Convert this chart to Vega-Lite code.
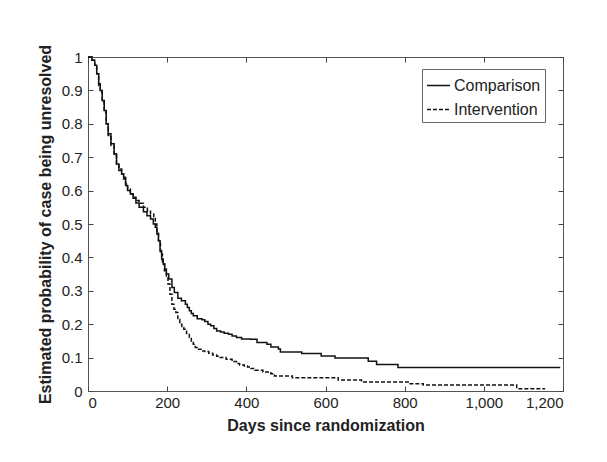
{
  "$schema": "https://vega.github.io/schema/vega-lite/v6.json",
  "autosize": "none",
  "width": 475,
  "height": 334,
  "padding": {"left": 88, "top": 57, "right": 44, "bottom": 71},
  "background": "white",
  "config": {
    "view": {"stroke": "#555", "strokeWidth": 1},
    "font": "Liberation Sans",
    "axis": {
      "domain": false,
      "grid": false,
      "tickSize": -5,
      "tickColor": "#444",
      "labelFontSize": 15,
      "labelColor": "#222",
      "labelFont": "Liberation Sans",
      "titleFont": "Liberation Sans",
      "titleFontSize": 16,
      "titleFontWeight": "bold",
      "titleColor": "#222"
    }
  },
  "data": {
    "values": [
      {"g":"Comparison","d":0,"p":1},{"g":"Comparison","d":10,"p":0.99},{"g":"Comparison","d":17,"p":0.975},{"g":"Comparison","d":22,"p":0.95},{"g":"Comparison","d":27,"p":0.92},{"g":"Comparison","d":31,"p":0.9},{"g":"Comparison","d":36,"p":0.87},{"g":"Comparison","d":41,"p":0.84},{"g":"Comparison","d":46,"p":0.8},{"g":"Comparison","d":51,"p":0.77},{"g":"Comparison","d":58,"p":0.74},{"g":"Comparison","d":66,"p":0.71},{"g":"Comparison","d":72,"p":0.68},{"g":"Comparison","d":78,"p":0.66},{"g":"Comparison","d":85,"p":0.65},{"g":"Comparison","d":90,"p":0.635},{"g":"Comparison","d":95,"p":0.615},{"g":"Comparison","d":100,"p":0.6},{"g":"Comparison","d":107,"p":0.59},{"g":"Comparison","d":114,"p":0.577},{"g":"Comparison","d":121,"p":0.563},{"g":"Comparison","d":129,"p":0.55},{"g":"Comparison","d":140,"p":0.537},{"g":"Comparison","d":149,"p":0.525},{"g":"Comparison","d":158,"p":0.515},{"g":"Comparison","d":165,"p":0.5},{"g":"Comparison","d":170,"p":0.49},{"g":"Comparison","d":174,"p":0.47},{"g":"Comparison","d":178,"p":0.45},{"g":"Comparison","d":182,"p":0.42},{"g":"Comparison","d":186,"p":0.395},{"g":"Comparison","d":190,"p":0.38},{"g":"Comparison","d":194,"p":0.365},{"g":"Comparison","d":198,"p":0.35},{"g":"Comparison","d":204,"p":0.335},{"g":"Comparison","d":212,"p":0.31},{"g":"Comparison","d":218,"p":0.295},{"g":"Comparison","d":227,"p":0.278},{"g":"Comparison","d":236,"p":0.27},{"g":"Comparison","d":246,"p":0.26},{"g":"Comparison","d":251,"p":0.25},{"g":"Comparison","d":256,"p":0.24},{"g":"Comparison","d":261,"p":0.232},{"g":"Comparison","d":266,"p":0.225},{"g":"Comparison","d":276,"p":0.216},{"g":"Comparison","d":288,"p":0.213},{"g":"Comparison","d":295,"p":0.208},{"g":"Comparison","d":303,"p":0.2},{"g":"Comparison","d":310,"p":0.195},{"g":"Comparison","d":318,"p":0.187},{"g":"Comparison","d":325,"p":0.18},{"g":"Comparison","d":335,"p":0.177},{"g":"Comparison","d":344,"p":0.173},{"g":"Comparison","d":355,"p":0.17},{"g":"Comparison","d":364,"p":0.165},{"g":"Comparison","d":375,"p":0.16},{"g":"Comparison","d":388,"p":0.156},{"g":"Comparison","d":410,"p":0.155},{"g":"Comparison","d":427,"p":0.145},{"g":"Comparison","d":452,"p":0.14},{"g":"Comparison","d":462,"p":0.132},{"g":"Comparison","d":481,"p":0.126},{"g":"Comparison","d":486,"p":0.117},{"g":"Comparison","d":540,"p":0.112},{"g":"Comparison","d":589,"p":0.105},{"g":"Comparison","d":624,"p":0.099},{"g":"Comparison","d":708,"p":0.089},{"g":"Comparison","d":729,"p":0.079},{"g":"Comparison","d":783,"p":0.07},{"g":"Comparison","d":1193,"p":0.07},
      {"g":"Intervention","d":0,"p":1},{"g":"Intervention","d":10,"p":0.99},{"g":"Intervention","d":17,"p":0.975},{"g":"Intervention","d":22,"p":0.95},{"g":"Intervention","d":27,"p":0.915},{"g":"Intervention","d":31,"p":0.895},{"g":"Intervention","d":36,"p":0.865},{"g":"Intervention","d":41,"p":0.835},{"g":"Intervention","d":46,"p":0.8},{"g":"Intervention","d":51,"p":0.765},{"g":"Intervention","d":58,"p":0.735},{"g":"Intervention","d":66,"p":0.705},{"g":"Intervention","d":72,"p":0.68},{"g":"Intervention","d":78,"p":0.665},{"g":"Intervention","d":85,"p":0.65},{"g":"Intervention","d":90,"p":0.64},{"g":"Intervention","d":95,"p":0.62},{"g":"Intervention","d":100,"p":0.605},{"g":"Intervention","d":107,"p":0.59},{"g":"Intervention","d":114,"p":0.58},{"g":"Intervention","d":121,"p":0.57},{"g":"Intervention","d":129,"p":0.562},{"g":"Intervention","d":140,"p":0.55},{"g":"Intervention","d":150,"p":0.538},{"g":"Intervention","d":158,"p":0.53},{"g":"Intervention","d":166,"p":0.52},{"g":"Intervention","d":170,"p":0.5},{"g":"Intervention","d":174,"p":0.475},{"g":"Intervention","d":178,"p":0.45},{"g":"Intervention","d":183,"p":0.41},{"g":"Intervention","d":188,"p":0.38},{"g":"Intervention","d":193,"p":0.36},{"g":"Intervention","d":198,"p":0.34},{"g":"Intervention","d":202,"p":0.32},{"g":"Intervention","d":207,"p":0.29},{"g":"Intervention","d":212,"p":0.26},{"g":"Intervention","d":217,"p":0.245},{"g":"Intervention","d":222,"p":0.235},{"g":"Intervention","d":227,"p":0.215},{"g":"Intervention","d":232,"p":0.2},{"g":"Intervention","d":237,"p":0.19},{"g":"Intervention","d":242,"p":0.185},{"g":"Intervention","d":249,"p":0.172},{"g":"Intervention","d":256,"p":0.16},{"g":"Intervention","d":261,"p":0.15},{"g":"Intervention","d":266,"p":0.14},{"g":"Intervention","d":271,"p":0.13},{"g":"Intervention","d":276,"p":0.125},{"g":"Intervention","d":288,"p":0.12},{"g":"Intervention","d":295,"p":0.118},{"g":"Intervention","d":305,"p":0.113},{"g":"Intervention","d":315,"p":0.108},{"g":"Intervention","d":325,"p":0.104},{"g":"Intervention","d":334,"p":0.1},{"g":"Intervention","d":349,"p":0.095},{"g":"Intervention","d":364,"p":0.088},{"g":"Intervention","d":375,"p":0.082},{"g":"Intervention","d":383,"p":0.078},{"g":"Intervention","d":395,"p":0.075},{"g":"Intervention","d":403,"p":0.072},{"g":"Intervention","d":412,"p":0.067},{"g":"Intervention","d":422,"p":0.062},{"g":"Intervention","d":442,"p":0.057},{"g":"Intervention","d":462,"p":0.052},{"g":"Intervention","d":471,"p":0.045},{"g":"Intervention","d":516,"p":0.04},{"g":"Intervention","d":632,"p":0.033},{"g":"Intervention","d":691,"p":0.027},{"g":"Intervention","d":809,"p":0.022},{"g":"Intervention","d":847,"p":0.018},{"g":"Intervention","d":1083,"p":0.007},{"g":"Intervention","d":1155,"p":0.007}
    ]
  },
  "layer": [
    {
      "mark": {"type": "line", "interpolate": "step-after", "color": "#111", "strokeWidth": 1.5},
      "encoding": {
        "x": {"field": "d", "type": "quantitative", "scale": {"domain": [0, 1200], "nice": false},
              "axis": {"values": [0,200,400,600,800,1000,1200], "title": "Days since randomization", "labelPadding": 9, "titlePadding": 7}},
        "y": {"field": "p", "type": "quantitative", "scale": {"domain": [0, 1], "nice": false},
              "axis": {"values": [0,0.1,0.2,0.3,0.4,0.5,0.6,0.7,0.8,0.9,1], "format": "~g", "title": "Estimated probability of case being unresolved", "labelPadding": 11, "titlePadding": 8}},
        "strokeDash": {"field": "g", "type": "nominal",
          "scale": {"domain": ["Comparison", "Intervention"], "range": [[1, 0], [4, 2]]},
          "legend": {"title": null, "orient": "none", "legendX": 334, "legendY": 12, "direction": "vertical",
            "symbolType": "stroke", "symbolSize": 529, "symbolStrokeWidth": 1.5, "symbolStrokeColor": "#111",
            "labelFontSize": 16, "labelColor": "#222", "labelOffset": 3, "rowPadding": 3,
            "padding": 4, "strokeColor": "#666", "fillColor": "white", "cornerRadius": 0}}
      }
    },
    {
      "mark": {"type": "line", "opacity": 0},
      "encoding": {
        "x": {"field": "d", "type": "quantitative",
              "axis": {"orient": "top", "values": [0,200,400,600,800,1000,1200], "labels": false, "title": null}},
        "y": {"field": "p", "type": "quantitative",
              "axis": {"orient": "right", "values": [0,0.1,0.2,0.3,0.4,0.5,0.6,0.7,0.8,0.9,1], "labels": false, "title": null}},
        "detail": {"field": "g"}
      }
    }
  ],
  "resolve": {"axis": {"x": "independent", "y": "independent"}}
}
